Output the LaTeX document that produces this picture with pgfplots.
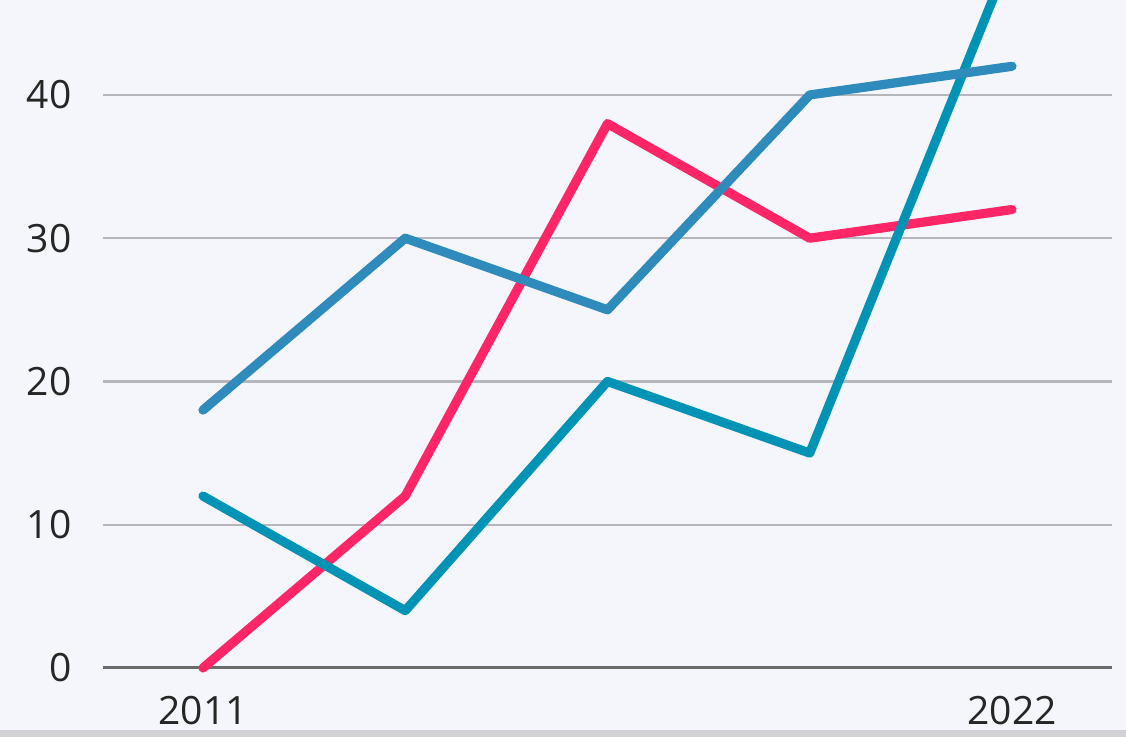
\documentclass[border=0pt]{standalone}
\usepackage{fontspec}
\setmainfont{Open Sans}
\usepackage{pgfplots}
\pgfplotsset{compat=1.18}
\definecolor{bg}{HTML}{F4F6FB}
\definecolor{pinkc}{HTML}{FF2667}
\definecolor{bluec}{HTML}{2E8BBB}
\definecolor{tealc}{HTML}{0093B6}
\definecolor{gridc}{HTML}{B6B7BC}
\definecolor{zeroc}{HTML}{6B6B6B}
\definecolor{shadowc}{HTML}{D2D2D4}
\begin{document}
\begin{tikzpicture}
\fill[bg] (0,0) rectangle (563pt,368.5pt);
\fill[shadowc] (0,0) rectangle (563pt,3.5pt);
\begin{axis}[
  at={(51.5pt,3.5pt)}, anchor=south west,
  scale only axis, width=504.5pt, height=365pt,
  xmin=-0.4944, xmax=4.4944,
  ymin=-4.33, ymax=46.63,
  axis line style={draw=none},
  tick style={draw=none},
  major tick length=0pt,
  xtick={0,4}, xticklabels={2011,2022},
  ytick={10,20,30,40},
  extra y ticks={0},
  extra y tick style={grid style={color=zeroc, line width=1.5pt}},
  ymajorgrids,
  grid style={color=gridc, line width=1.2pt},
  /pgf/number format/assume math mode=true,
  tick label style={font=\fontsize{19.5}{24}\selectfont, text=black!85},
  yticklabel style={anchor=east, inner sep=0pt, xshift=-15.5pt},
  xticklabel style={anchor=center, inner sep=0pt, yshift=9.5pt},
  every axis plot/.append style={line width=4.6pt, line cap=round, line join=round, mark=none},
]
\addplot[pinkc] coordinates {(0,0) (1,12) (2,38) (3,30) (4,32)};
\addplot[tealc] coordinates {(0,12) (1,4) (2,20) (3,15) (4,50)};
\addplot[bluec] coordinates {(0,18) (1,30) (2,25) (3,40) (4,42)};
\end{axis}
\pgfresetboundingbox
\path (0,0) rectangle (563pt,368.5pt);
\end{tikzpicture}
\end{document}
